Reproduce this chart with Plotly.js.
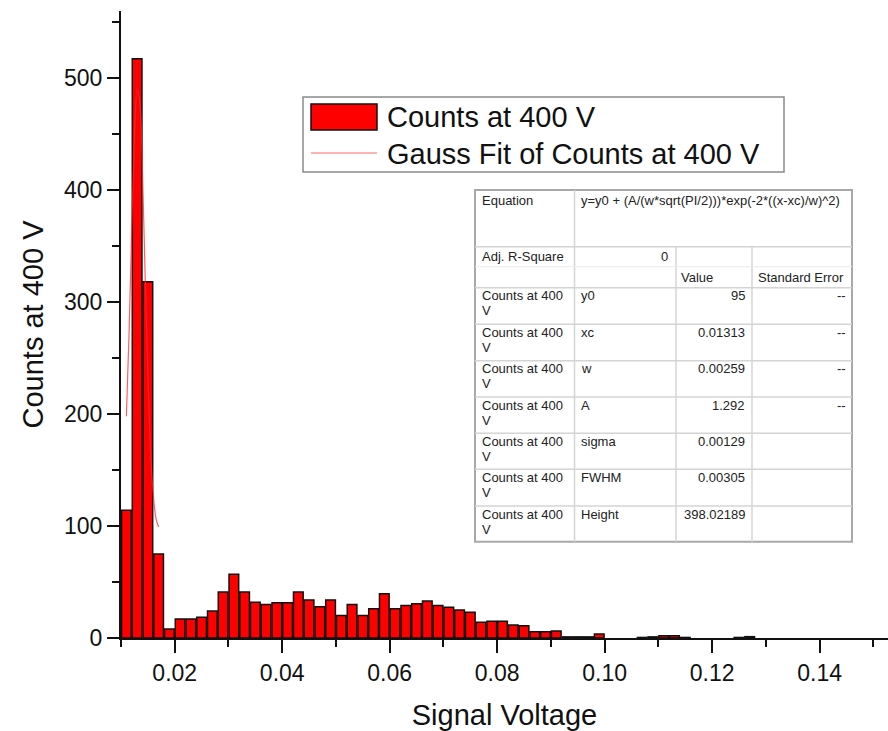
<!DOCTYPE html>
<html>
<head>
<meta charset="utf-8">
<script src="https://cdn.plot.ly/plotly-3.0.1.min.js"></script>
<style>
html,body{margin:0;padding:0;background:#fff;}
#chart{width:888px;height:731px;}
</style>
</head>
<body>
<div id="chart"></div>
<script>
// ---- Data ----
const binCenters = [0.011,0.013,0.015,0.017,0.019,0.021,0.023,0.025,0.027,0.029,
  0.031,0.033,0.035,0.037,0.039,0.041,0.043,0.045,0.047,0.049,
  0.051,0.053,0.055,0.057,0.059,0.061,0.063,0.065,0.067,0.069,
  0.071,0.073,0.075,0.077,0.079,0.081,0.083,0.085,0.087,0.089,
  0.091,0.093,0.095,0.097,0.099,0.107,0.109,0.111,0.113,0.115,0.125,0.127];
const counts = [114,517,318,75,8,17,17,18.5,24,41,
  57,41,32,30,31.5,31.5,41,34,28,34,
  20,30,20,26,39.5,26,29,30.5,33,29,
  27.5,25,23,14,15,15,11.5,11,5.5,5.5,
  6.3,1,1,1,3.5,0.5,1,2,2,0.5,0.5,1.2];

const fitX = [0.0110,0.0115,0.0120,0.0125,0.0130,0.0135,0.0140,0.0145,0.0150,0.0155,0.0160,0.0165,0.0170];
const fitY = [198,272,365,445,490,478,415,322,236,168,128,107,99];

const seriesName = "Counts at 400 V";
const fitName = "Gauss Fit of Counts at 400 V";
const xTitle = "Signal Voltage";
const yTitle = "Counts at 400 V";

const equationText = "y=y0 + (A/(w*sqrt(PI/2)))*exp(-2*((x-xc)/w)^2)";
const adjRSquare = "0";
const rowLabel = "Counts at 400";
const paramNames = ["y0","xc","w","A","sigma","FWHM","Height"];
const paramValues = ["95","0.01313","0.00259","1.292","0.00129","0.00305","398.02189"];
const stdErrors = ["--","--","--","--","","",""];

// ---- Layout helpers (pixel -> paper) ----
const L = 121, R = 0, T = 11, B = 93, W = 888, H = 731;
const PW = W - L - R, PH = H - T - B;
const px = p => (p - L) / PW;
const py = p => (H - B - p) / PH;
const FONT = "Liberation Sans, Arial, sans-serif";

const shapes = [];
const annotations = [];

function rect(x0,y0,x1,y1,fill,lc,lw){
  shapes.push({type:'rect',xref:'paper',yref:'paper',x0:px(x0),x1:px(x1),y0:py(y0),y1:py(y1),
    fillcolor:fill,line:{color:lc,width:lw},layer:'above'});
}
function line(x0,y0,x1,y1,lc,lw){
  shapes.push({type:'line',xref:'paper',yref:'paper',x0:px(x0),x1:px(x1),y0:py(y0),y1:py(y1),
    line:{color:lc,width:lw},layer:'above'});
}
function text(t,x,y,anchor,size,color){
  annotations.push({xref:'paper',yref:'paper',x:px(x),y:py(y),text:t,showarrow:false,
    xanchor:anchor,yanchor:'middle',font:{family:FONT,size:size,color:color||'#222'}});
}

// ---- Legend (drawn) ----
rect(303,97,784,172,'#ffffff','#8a8a8a',1.5);
rect(311,104,377,130,'#ff0000','#111111',1.5);
line(311,153,377,153,'#ff9a9a',1.5);
text(seriesName,385,117,'left',29,'#111');
text(fitName,385,154,'left',29,'#111');

// ---- Fit table (drawn) ----
const tx0 = 475, tx1 = 852, c1 = 574.5, c2 = 676, c3 = 752;
const rowTops = [287.7,324.3,360.7,397,433.3,469.3,506];
rect(tx0,190,tx1,541.7,'#ffffff','#a8a8a8',2);
const gl = '#d4d4d4';
line(c1,190,c1,541.7,gl,1.5);
line(c2,246.7,c2,541.7,gl,1.5);
line(c3,246.7,c3,541.7,gl,1.5);
line(tx0,246.7,tx1,246.7,gl,1.5);
line(tx0,266.7,tx1,266.7,'#ececec',1);
line(tx0,287.7,tx1,287.7,gl,1.5);
rowTops.slice(1).forEach(y=>line(tx0,y,tx1,y,gl,1.5));

text("Equation",480,201,'left',13);
text(equationText,579,201,'left',13);
text("Adj. R-Square",480,256,'left',13);
text(adjRSquare,670,256,'right',13);
text("Value",679,277,'left',13);
text("Standard Error",756,277,'left',13);
rowTops.forEach((top,i)=>{
  text(rowLabel,480,top+8,'left',13);
  text("V",480,top+23,'left',13);
  text(paramNames[i],579,top+8,'left',13);
  text(paramValues[i],747,top+8,'right',13);
  if(stdErrors[i]) text(stdErrors[i],848,top+8,'right',13);
});

// ---- Traces ----
const traces = [
  {type:'bar',x:binCenters,y:counts,name:seriesName,showlegend:false,
   marker:{color:'#ff0000',line:{color:'#111111',width:1.5}}},
  {type:'scatter',mode:'lines',x:fitX,y:fitY,name:fitName,showlegend:false,
   line:{color:'rgba(255,40,40,0.75)',width:1.2,shape:'spline'}}
];

const axisCommon = {
  showline:true, linecolor:'#111', linewidth:2, mirror:false,
  ticks:'outside', tickwidth:2, tickcolor:'#111', ticklen:13,
  showgrid:false, zeroline:false,
  tickfont:{family:FONT,size:23,color:'#111'},
  automargin:false
};

const layout = {
  width:W, height:H,
  margin:{l:L,r:R,t:T,b:B,pad:0},
  paper_bgcolor:'#ffffff', plot_bgcolor:'#ffffff',
  bargap:0.1,
  showlegend:false,
  xaxis:Object.assign({},axisCommon,{
    range:[0.01,0.01+PW/5373.6],
    tick0:0, dtick:0.02, tickformat:'.2f',
    minor:{dtick:0.01,ticks:'outside',ticklen:7,tickwidth:2,tickcolor:'#111',showgrid:false},
    title:{text:xTitle,font:{family:FONT,size:29,color:'#111'},standoff:22}
  }),
  yaxis:Object.assign({},axisCommon,{
    range:[0,559.6],
    tick0:0, dtick:100, ticklen:12,
    minor:{dtick:50,ticks:'outside',ticklen:7,tickwidth:2,tickcolor:'#111',showgrid:false},
    title:{text:yTitle,font:{family:FONT,size:29,color:'#111'},standoff:12}
  }),
  shapes:shapes,
  annotations:annotations
};

Plotly.newPlot('chart',traces,layout,{displayModeBar:false,staticPlot:true});
</script>
</body>
</html>
